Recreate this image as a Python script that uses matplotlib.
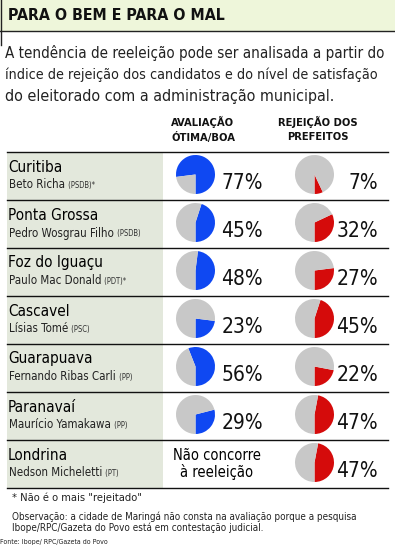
import matplotlib.pyplot as plt
from matplotlib import font_manager
from matplotlib.patches import Rectangle

# condensed face if the system has one, else Lato (narrower than DejaVu)
nomes = {(f.name, f.stretch) for f in font_manager.fontManager.ttflist}
if any(n == 'Liberation Sans Narrow' for n, s in nomes):
    plt.rcParams['font.family'] = ['Liberation Sans Narrow', 'DejaVu Sans']
elif ('DejaVu Sans', 'condensed') in nomes:
    plt.rcParams['font.family'] = ['DejaVu Sans']
    plt.rcParams['font.stretch'] = 'condensed'
else:
    plt.rcParams['font.family'] = ['Lato', 'DejaVu Sans']

cidades = ['Curitiba', 'Ponta Grossa', 'Foz do Iguaçu', 'Cascavel',
           'Guarapuava', 'Paranavaí', 'Londrina']
prefeitos = ['Beto Richa', 'Pedro Wosgrau Filho', 'Paulo Mac Donald', 'Lísias Tomé',
             'Fernando Ribas Carli', 'Maurício Yamakawa', 'Nedson Micheletti']
partidos = ['PSDB', 'PSDB', 'PDT', 'PSC', 'PP', 'PP', 'PT']
asterisco = [True, False, True, False, False, False, False]
avaliacao = [77, 45, 48, 23, 56, 29, None]   # Londrina nao concorre
rejeicao = [7, 32, 27, 45, 22, 47, 47]

titulo = 'PARA O BEM E PARA O MAL'
intro = ['A tendência de reeleição pode ser analisada a partir do',
         'índice de rejeição dos candidatos e do nível de satisfação',
         'do eleitorado com a administração municipal.']
col1 = ['AVALIAÇÃO', 'ÓTIMA/BOA']
col2 = ['REJEIÇÃO DOS', 'PREFEITOS']
nota = '* Não é o mais "rejeitado"'
obs = ['Observação: a cidade de Maringá não consta na avaliação porque a pesquisa',
       'Ibope/RPC/Gazeta do Povo está em contestação judicial.']
fonte = 'Fonte: Ibope/ RPC/Gazeta do Povo'

azul = '#0f48f2'
vermelho = '#d50b0b'
cinza = '#c8c8c8'

W, H = 395, 548
fig = plt.figure(figsize=(W / 100, H / 100), dpi=100)
ax = fig.add_axes([0, 0, 1, 1])
ax.set_xlim(0, W)
ax.set_ylim(0, H)
fig.canvas.draw()
r = fig.canvas.get_renderer()


def y(px):  # pixel from top -> data y
    return H - px


def caber(t, largura):
    # shrink a text until it fits the width it has in the reference
    while t.get_window_extent(r).width > largura and t.get_fontsize() > 3:
        t.set_fontsize(t.get_fontsize() - 0.2)
    return t


# header band
ax.add_patch(Rectangle((0, y(31)), W, 31, color='#eef6da', lw=0))
ax.plot([0, W], [y(31), y(31)], color='#222222', lw=1)
ax.plot([1, 1], [y(0), y(45)], color='#222222', lw=1)
caber(ax.text(8, y(15), titulo, fontsize=12, fontweight='bold', va='center', color='#111111'), 218)

for i, linha in enumerate(intro):
    t = ax.text(5, y(53 + 21.5 * i), linha, fontsize=11.5, va='center', color='#222222')
    caber(t, 383)

for i in range(2):
    ax.text(203, y(122 + 15 * i), col1[i], fontsize=8, fontweight='semibold',
            ha='center', va='center', color='#111111')
    ax.text(318, y(122 + 15 * i), col2[i], fontsize=8, fontweight='semibold',
            ha='center', va='center', color='#111111')

# table
topo, alt = 152, 48
n = len(cidades)
ax.add_patch(Rectangle((7, y(topo + alt * n)), 156, alt * n, color='#e3e8dc', lw=0))
for k in range(n + 1):
    ax.plot([7, 388], [y(topo + alt * k)] * 2, color='#111111', lw=1)

for i in range(n):
    t0 = topo + alt * i
    ax.text(8, y(t0 + 15), cidades[i], fontsize=11, va='center', color='#000000')
    tn = ax.text(9, y(t0 + 33), prefeitos[i], fontsize=8.3, va='center', color='#222222')
    bb = tn.get_window_extent(r)
    extra = ' (' + partidos[i] + ')' + ('*' if asterisco[i] else '')
    ax.text(bb.x1 + 1, y(t0 + 33.5), extra, fontsize=5.5, va='center', color='#333333')

    if avaliacao[i] is not None:
        v = avaliacao[i]
        ax.pie([v, 100 - v], colors=[azul, cinza], startangle=270, counterclock=True,
               center=(195.5, y(t0 + 22.5)), radius=19.5, frame=True,
               wedgeprops=dict(linewidth=0))
        ax.text(263, y(t0 + 31), f'{v}%', fontsize=15, ha='right', va='center', color='#111111')
    else:
        for j, linha in enumerate(['Não concorre', 'à reeleição']):
            ax.text(217, y(t0 + 15 + 17 * j), linha, fontsize=10.5, ha='center',
                    va='center', color='#000000')

    v = rejeicao[i]
    ax.pie([v, 100 - v], colors=[vermelho, cinza], startangle=270, counterclock=True,
           center=(314.5, y(t0 + 22.5)), radius=19.5, frame=True,
           wedgeprops=dict(linewidth=0))
    ax.text(378, y(t0 + 31), f'{v}%', fontsize=15, ha='right', va='center', color='#111111')

# footer
ax.text(12, y(498), nota, fontsize=8, va='center', color='#222222')
t1 = caber(ax.text(12, y(517), obs[0], fontsize=8.5, va='center', color='#222222'), 350)
ax.text(12, y(528), obs[1], fontsize=t1.get_fontsize(), va='center', color='#222222')
ax.text(0, y(542), fonte, fontsize=5, va='center', color='#222222')

ax.set_xlim(0, W)
ax.set_ylim(0, H)
ax.set_aspect('auto')
ax.axis('off')
fig.savefig('out.png', dpi=100)
